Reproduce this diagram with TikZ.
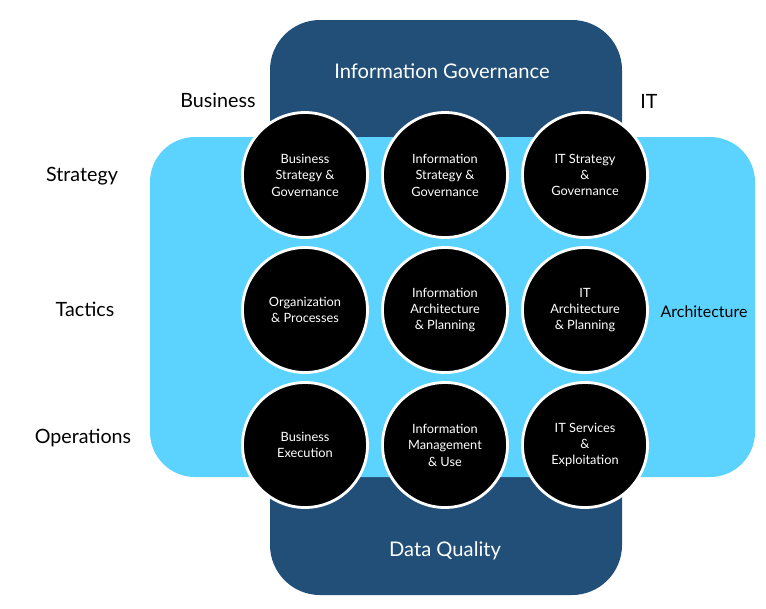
\documentclass[tikz,border=0pt]{standalone}
\usepackage{fontspec}
\setmainfont{Lato}
\usepackage{xcolor}
\usetikzlibrary{positioning}
\definecolor{govblue}{RGB}{33,79,120}
\definecolor{archblue}{RGB}{92,211,255}

\begin{document}
\begin{tikzpicture}[x=0.03cm, y=-0.03cm,
  every node/.style={inner sep=1.5pt},
  areacircle/.style={circle, fill=black, draw=white, line width=2.4pt, minimum size=3.75cm,
    text=white, align=center, font=\fontsize{10.9}{14}\selectfont},
  axislabel/.style={font=\fontsize{16.8}{19}\selectfont},
  bandlabel/.style={text=white, font=\fontsize{17.2}{20}\selectfont}]
  \useasboundingbox (0,0) rectangle (766,608);
  % background bands
  \fill[govblue, rounded corners=1.5cm] (270,20) rectangle (622,595);
  \fill[archblue, rounded corners=1.35cm] (150,137) rectangle (755,477);
  \node[bandlabel] (gov) at (442,71) {Information Governance};
  \node[bandlabel] (dq) at (445,551) {Data Quality};
  % axis labels
  \node[axislabel] (bus) at (218,100) {Business};
  \node[axislabel] (it) at (649,101) {IT};
  \node[axislabel] (strat) at (82,176) {Strategy};
  \node[axislabel] (tact) at (85,309) {Tactics};
  \node[axislabel] (ops) at (83,438) {Operations};
  \node[font=\fontsize{13.6}{16}\selectfont] (arch) at (704,312) {Architecture};
  % the nine circles
  \node[areacircle] (bsg) at (305,175) {Business\\Strategy \&\\Governance};
  \node[areacircle] (isg) at (445,175) {Information\\Strategy \&\\Governance};
  \node[areacircle] (itsg) at (585,175) {IT Strategy\\\&\\Governance};
  \node[areacircle] (op) at (305,310) {Organization\\\& Processes};
  \node[areacircle] (iap) at (445,310) {Information\\Architecture\\\& Planning};
  \node[areacircle] (itap) at (585,310) {IT\\Architecture\\\& Planning};
  \node[areacircle] (be) at (305,445) {Business\\Execution};
  \node[areacircle] (imu) at (445,445) {Information\\Management\\\& Use};
  \node[areacircle] (itse) at (585,445) {IT Services\\\&\\Exploitation};
\end{tikzpicture}
\end{document}
